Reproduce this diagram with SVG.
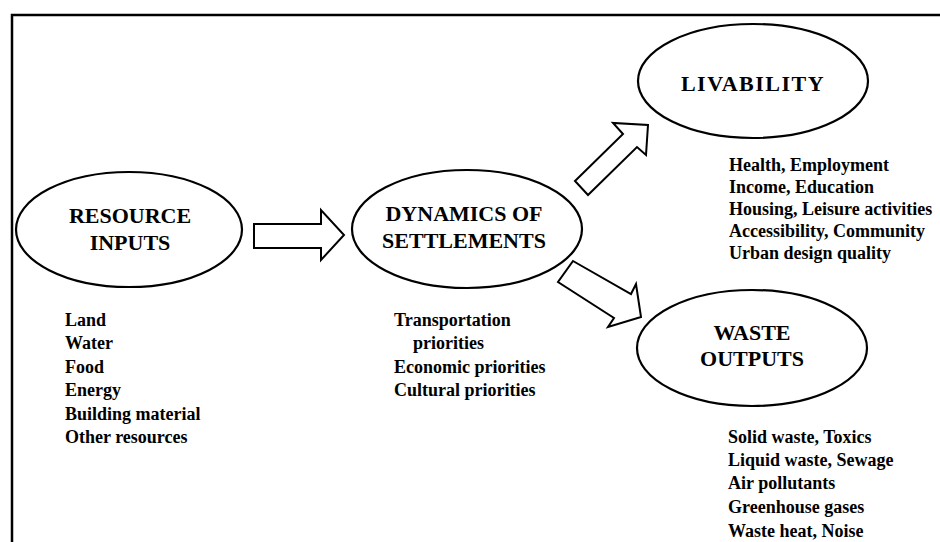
<svg xmlns="http://www.w3.org/2000/svg" width="940" height="542" viewBox="0 0 940 542">
  <style>
    .frame { fill: none; stroke: #000; stroke-width: 2.5; }
    .node ellipse { fill: #fff; stroke: #000; stroke-width: 2.2; }
    .title { font-family: "Liberation Serif", "Times New Roman", serif; font-weight: bold; font-size: 22px; fill: #000; text-anchor: middle; }
    .list { font-family: "Liberation Serif", "Times New Roman", serif; font-weight: bold; font-size: 18px; fill: #000; }
    .block { fill: #fff; stroke: #000; stroke-width: 2; stroke-linejoin: miter; }
  </style>

  <rect width="940" height="542" fill="#fff"/>

  <!-- outer frame (open to the right and bottom) -->
  <path class="frame" d="M12,542 L12,15 L940,15"/>

  <!-- hollow block arrows -->
  <g id="connectors">
    <polygon class="block" points="254,224 321,224 321,210 344,235 321,260 321,248 254,248"/>
    <polygon class="block" points="575,181 623,134 613,123 648,125 646,155 637,147 588,195"/>
    <polygon class="block" points="573,261 631,294 636,284 641,317 608,327 614,318 558,282"/>
  </g>

  <g id="resource-inputs" class="node">
    <ellipse cx="129" cy="229.5" rx="113" ry="57.5"/>
    <text class="title" x="130" y="223">RESOURCE</text>
    <text class="title" x="130" y="250">INPUTS</text>
  </g>

  <g id="dynamics" class="node">
    <ellipse cx="467" cy="229" rx="115" ry="59"/>
    <text class="title" x="464" y="221">DYNAMICS OF</text>
    <text class="title" x="464" y="248">SETTLEMENTS</text>
  </g>

  <g id="livability" class="node">
    <ellipse cx="753" cy="81" rx="115" ry="57"/>
    <text class="title" x="753" y="91" letter-spacing="1.5">LIVABILITY</text>
  </g>

  <g id="waste-outputs" class="node">
    <ellipse cx="752" cy="348" rx="115" ry="58"/>
    <text class="title" x="752" y="340">WASTE</text>
    <text class="title" x="752" y="366">OUTPUTS</text>
  </g>

  <!-- descriptive lists -->
  <g id="inputs-list" class="list">
    <text x="65" y="326">Land</text>
    <text x="65" y="349.4">Water</text>
    <text x="65" y="372.8">Food</text>
    <text x="65" y="396.2">Energy</text>
    <text x="65" y="419.6">Building material</text>
    <text x="65" y="443">Other resources</text>
  </g>

  <g id="dynamics-list" class="list">
    <text x="394" y="326">Transportation</text>
    <text x="413" y="349.4">priorities</text>
    <text x="394" y="372.8">Economic priorities</text>
    <text x="394" y="396.2">Cultural priorities</text>
  </g>

  <g id="livability-list" class="list">
    <text x="729" y="171">Health, Employment</text>
    <text x="729" y="193">Income, Education</text>
    <text x="729" y="215">Housing, Leisure activities</text>
    <text x="729" y="237">Accessibility, Community</text>
    <text x="729" y="259">Urban design quality</text>
  </g>

  <g id="waste-list" class="list">
    <text x="728" y="443">Solid waste, Toxics</text>
    <text x="728" y="466">Liquid waste, Sewage</text>
    <text x="728" y="489">Air pollutants</text>
    <text x="728" y="513">Greenhouse gases</text>
    <text x="728" y="537">Waste heat, Noise</text>
  </g>
</svg>
